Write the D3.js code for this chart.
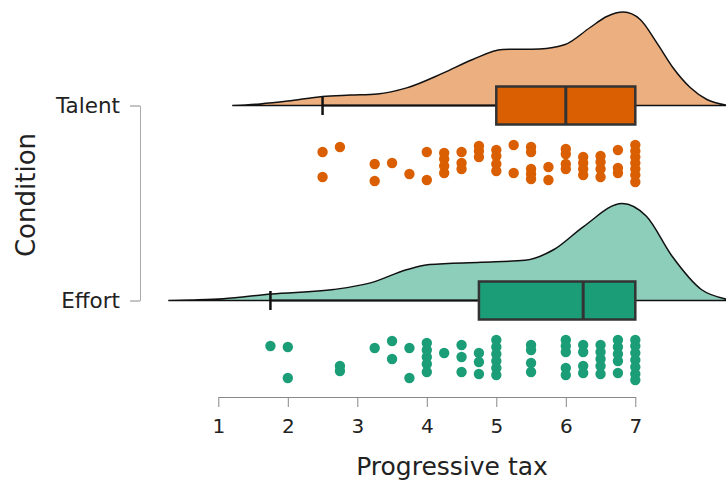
<!DOCTYPE html>
<html>
<head>
<meta charset="utf-8">
<script src="https://cdn.jsdelivr.net/npm/d3@7"></script>
<style>
  body { margin: 0; background: #fff; }
  svg { display: block; font-family: "DejaVu Sans", sans-serif; }
</style>
</head>
<body>
<script>
// conditions shown on the y axis
const conditions = ["Talent", "Effort"];
const fills = ["#D95F02", "#1B9E77"];

// raw scores (dots) and their vertical jitter (-1..1)
const talentScores = [2.5, 2.5, 2.75, 3.25, 3.25, 3.5, 3.75, 4, 4,
  4.25, 4.25, 4.25, 4.25, 4.5, 4.5, 4.5, 4.75, 4.75, 4.75,
  5, 5, 5, 5, 5.25, 5.25, 5.5, 5.5, 5.5, 5.5, 5.5, 5.75, 5.75,
  6, 6, 6, 6, 6.25, 6.25, 6.25, 6.25, 6.5, 6.5, 6.5, 6.5,
  6.75, 6.75, 6.75, 7, 7, 7, 7, 7, 7, 7];
const talentJitter = [-0.65, 0.6, -0.9, -0.05, 0.8, -0.1, 0.45, -0.65, 0.75,
  -0.6, -0.3, 0.05, 0.4, -0.65, -0.1, 0.2, -0.95, -0.7, -0.4,
  -0.75, -0.45, -0.05, 0.3, -1, 0.4, -0.9, -0.65, 0.2, 0.45, 0.7, 0.1, 0.75,
  -0.8, -0.55, -0.05, 0.2, -0.4, -0.1, 0.2, 0.5, -0.45, -0.15, 0.2, 0.6,
  -0.75, 0.15, 0.4, -1, -0.7, -0.4, -0.1, 0.2, 0.5, 0.85];

const effortScores = [1.75, 2, 2, 2.75, 2.75, 3.25, 3.5, 3.5, 3.75, 3.75,
  4, 4, 4, 4, 4, 4.25, 4.5, 4.5, 4.5, 4.75, 4.75, 4.75,
  5, 5, 5, 5, 5, 5, 5.5, 5.5, 5.5, 5.5, 6, 6, 6, 6, 6,
  6.25, 6.25, 6.25, 6.25, 6.5, 6.5, 6.5, 6.5, 6.5,
  6.75, 6.75, 6.75, 6.75, 6.75, 7, 7, 7, 7, 7, 7, 7];
const effortJitter = [-0.7, -0.65, 0.9, 0.3, 0.55, -0.6, -0.95, -0.05, -0.6, 0.9,
  -0.85, -0.5, -0.15, 0.2, 0.6, -0.35, -0.75, -0.15, 0.6, -0.35, 0.1, 0.7,
  -1, -0.65, -0.3, 0.05, 0.4, 0.75, -0.75, -0.5, 0.15, 0.6, -1, -0.7, -0.4, 0.4, 0.75,
  -0.75, -0.4, 0.3, 0.65, -0.75, -0.4, -0.05, 0.3, 0.7,
  -1, -0.65, -0.3, 0.05, 0.65, -1, -0.7, -0.35, 0, 0.35, 0.7, 1];

// density curves
const talentDensX = [1.2, 1.6, 2.0, 2.5, 2.9, 3.29, 3.71, 4.24, 4.66, 5.09, 5.62, 5.99,
  6.35, 6.59, 6.83, 7.07, 7.31, 7.54, 7.79, 8.03, 8.3];
const talentDensY = [0, 0.008, 0.022, 0.045, 0.052, 0.058, 0.088, 0.163, 0.23, 0.28, 0.283, 0.305,
  0.39, 0.445, 0.467, 0.43, 0.313, 0.19, 0.09, 0.03, 0.003];
const effortDensX = [0.28, 0.6, 1.07, 1.76, 2.66, 3.19, 3.72, 4.04, 4.78, 5.41, 5.83,
  6.26, 6.81, 7.16, 7.53, 7.95, 8.3];
const effortDensY = [0, 0.003, 0.009, 0.033, 0.055, 0.088, 0.155, 0.18, 0.191, 0.201, 0.255,
  0.371, 0.485, 0.421, 0.221, 0.055, 0.008];

// box summaries
const boxQ1 = [5, 4.75];
const boxMedian = [6, 6.25];
const boxQ3 = [7, 7];
const whiskerLow = [2.5, 1.75];

const xTicks = [1, 2, 3, 4, 5, 6, 7];

const width = 726, height = 484;

const svg = d3.select("body").append("svg")
  .attr("width", width)
  .attr("height", height);

const x = d3.scaleLinear().domain([1, 7]).range([218.3, 635.3]);
const y = d3.scalePoint().domain(conditions).range([105.5, 300.5]);
const dens = d3.scaleLinear().domain([0, 0.5]).range([0, 100]);
const jit = d3.scaleLinear().domain([-1, 1]).range([-20, 20]);
const dotOffset = 59.5;

const groups = [
  {name: "Talent", densX: talentDensX, densY: talentDensY, scores: talentScores, jitter: talentJitter},
  {name: "Effort", densX: effortDensX, densY: effortDensY, scores: effortScores, jitter: effortJitter}
];

groups.forEach(function(g, i) {
  var base = y(g.name);
  var pts = g.densX.map(function(v, k) { return [v, g.densY[k]]; });

  var area = d3.area()
    .x(function(d) { return x(d[0]); })
    .y0(base)
    .y1(function(d) { return base - dens(d[1]); })
    .curve(d3.curveMonotoneX);

  // half violin
  svg.append("path")
    .datum(pts)
    .attr("d", area)
    .attr("fill", fills[i])
    .attr("fill-opacity", 0.5)
    .attr("stroke", "#111")
    .attr("stroke-width", 1.5);

  // whisker
  svg.append("line")
    .attr("x1", x(whiskerLow[i])).attr("x2", x(boxQ1[i]))
    .attr("y1", base).attr("y2", base)
    .attr("stroke", "#111").attr("stroke-width", 2);
  svg.append("line")
    .attr("x1", x(whiskerLow[i])).attr("x2", x(whiskerLow[i]))
    .attr("y1", base - 9.5).attr("y2", base + 9.5)
    .attr("stroke", "#111").attr("stroke-width", 2.5);

  // box
  svg.append("rect")
    .attr("x", x(boxQ1[i]))
    .attr("width", x(boxQ3[i]) - x(boxQ1[i]))
    .attr("y", base - 19)
    .attr("height", 38)
    .attr("fill", fills[i])
    .attr("stroke", "#333")
    .attr("stroke-width", 2.5);
  svg.append("line")
    .attr("x1", x(boxMedian[i])).attr("x2", x(boxMedian[i]))
    .attr("y1", base - 19).attr("y2", base + 19)
    .attr("stroke", "#333").attr("stroke-width", 3);

  // raw points
  svg.append("g")
    .selectAll("circle")
    .data(g.scores)
    .enter().append("circle")
    .attr("cx", function(d) { return x(d); })
    .attr("cy", function(d, k) { return base + dotOffset + jit(g.jitter[k]); })
    .attr("r", 5.2)
    .attr("fill", fills[i]);
});

// x axis
var xAxis = svg.append("g")
  .attr("transform", "translate(0,397)")
  .call(d3.axisBottom(x).tickValues(xTicks).tickFormat(d3.format("d"))
    .tickSize(10).tickSizeOuter(0).tickPadding(12));
xAxis.select(".domain").attr("stroke", "#888");
xAxis.selectAll(".tick line").attr("stroke", "#888");
xAxis.selectAll(".tick text")
  .attr("fill", "#222")
  .style("font-size", "20px")
  .style("font-family", "DejaVu Sans, sans-serif");

// y axis
var yAxis = svg.append("g")
  .attr("transform", "translate(140,0)")
  .call(d3.axisLeft(y).tickSize(10).tickSizeOuter(0).tickPadding(10));
yAxis.select(".domain").attr("stroke", "#aaa");
yAxis.selectAll(".tick line").attr("stroke", "#888");
yAxis.selectAll(".tick text")
  .attr("fill", "#222")
  .style("font-size", "21.5px")
  .style("font-family", "DejaVu Sans, sans-serif");

// axis titles
svg.append("text")
  .attr("x", 452).attr("y", 475)
  .attr("text-anchor", "middle")
  .attr("fill", "#222")
  .style("font-size", "25px")
  .text("Progressive tax");

svg.append("text")
  .attr("transform", "translate(35,195) rotate(-90)")
  .attr("text-anchor", "middle")
  .attr("fill", "#222")
  .style("font-size", "26px")
  .text("Condition");
</script>
</body>
</html>
